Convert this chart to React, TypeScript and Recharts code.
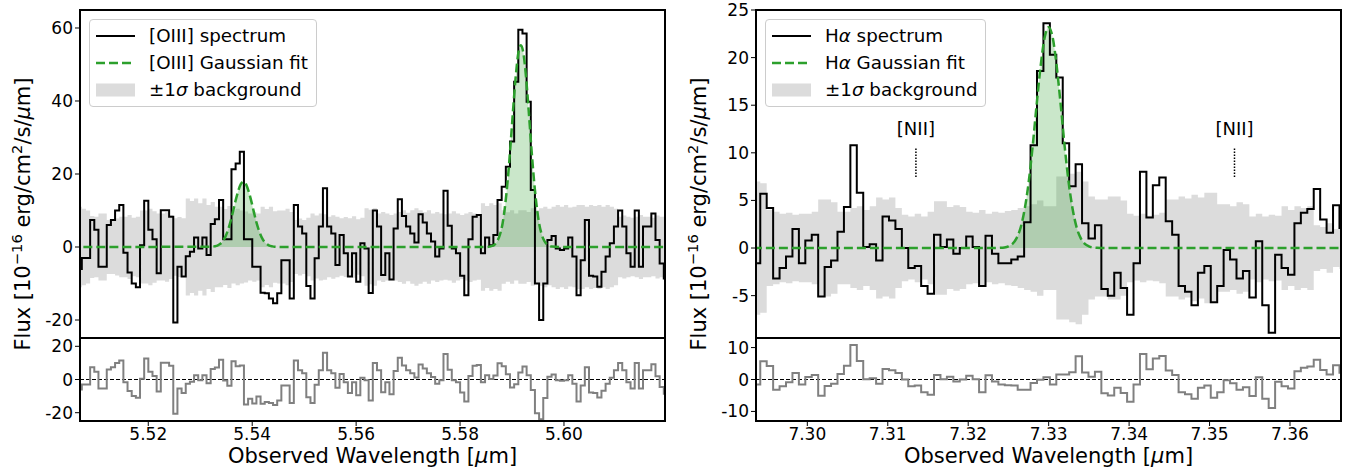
import React from 'react';
import { ComposedChart, Line, Area, XAxis, YAxis, ReferenceLine } from 'recharts';

const FONT = '"DejaVu Sans", Verdana, sans-serif';
const BAND = '#dcdcdc';
const GREEN = '#2ca02c';

// ---------------- [OIII] panel ----------------
const oiiiFirstBin = 5.50681; // centre of first (partly visible) bin
const oiiiBinWidth = 0.0008;
const oiiiFlux = [
  -6, -3, -3, 7.4, 4.7, -5.4, -5.4, 6.0, 7.4, 10.0,
  11.5, -1.6, -7.0, -10.0, -11.0, 0.5, 12.7, 4.7, 2.1, -7.2,
  10.1, 10.1, 8.3, -20.7, -5.4, -8.1, -2.5, -1.3, 2.6, -0.4,
  2.6, -2.2, 6.3, 7.6, 12.9, 2.1, 2.1, 21.3, 22.9, 26.1,
  2.1, 2.1, -5.4, -5.4, -12.5, -12.7, -14.1, -15.4, -12.7, -3.6,
  -3.6, -14.1, 11.5, 5.6, 3.7, -10.7, -14.1, -3.1, 5.6, 16.1,
  5.6, 3.7, -4.9, 3.3, -1.7, -8.1, -1.7, -9.5, 1.0, -0.4,
  -12.6, 10.0, 5.6, -7.7, -1.7, -8.9, 5.1, 13.1, 8.5, 5.6,
  3.7, 1.2, 9.0, 6.7, 3.7, 1.5, -2.6, -0.4, 15.4, 5.8,
  -0.4, -1.7, -7.9, -13.2, 2.1, 8.3, 8.8, -1.7, 2.6, 0.5,
  3.3, 12.9, 16.5, 22.0, 28.9, 45.3, 59.5, 58.5, 39.8, 15.6,
  -10.0, -20.0, -10.0, 1.9, 3.0, -0.4, -0.8, -0.4, 2.6, -2.6,
  -13.2, -3.6, 7.4, -7.9, -8.1, -10.9, -6.8, -2.6, 1.0, 5.6,
  10.0, 5.6, -1.7, -5.4, 10.0, -5.4, 5.6, 5.6, 9.2, 1.9,
  -4.5, -8.6,
];
const oiiiSigma = [
  11, 10.5, 10, 8.5, 8.3, 9.2, 9.2, 7.4, 7.4, 7.8,
  8.3, 8.3, 8.8, 8.0, 8.3, 10, 10, 10.5, 9.8, 9.2,
  9.2, 9.5, 8.8, 7.9, 8.2, 7.9, 13.3, 12.6, 13.3, 12.0,
  13.3, 11.5, 12.3, 11.0, 11.0, 10.4, 11.2, 10.0, 10.5, 10.0,
  9.7, 9.2, 9.5, 9.2, 11.0, 10.4, 11.0, 9.8, 10.0, 10.0,
  10.5, 9.6, 7.4, 7.8, 7.4, 8.0, 9.2, 8.6, 9.2, 9.0,
  8.3, 8.7, 8.3, 7.9, 8.2, 7.9, 8.4, 7.6, 8.0, 10.6,
  10.2, 10.6, 9.2, 9.6, 9.2, 8.8, 9.2, 9.6, 10.1, 9.4,
  10.1, 10.6, 10.1, 9.5, 10.1, 9.2, 9.6, 9.2, 9.0, 9.2,
  9.8, 9.2, 8.8, 9.2, 9.6, 9.2, 9.0, 12.0, 11.2, 12.0,
  11.5, 12.0, 10.1, 9.5, 10.1, 9.2, 10.1, 10.1, 9.6, 10.6,
  10.1, 10.6, 11.0, 10.5, 11.0, 11.5, 11.0, 11.5, 10.8, 11.0,
  11.5, 11.5, 11.0, 11.5, 11.2, 11.5, 11.0, 11.5, 11.0, 10.5,
  8.3, 8.6, 8.3, 8.0, 8.3, 8.8, 8.3, 8.3, 8.0, 8.6,
  8.3, 8.3,
];
const oiiiResid = [
  -6, -3, -3, 7.4, 4.7, -5.4, -5.4, 6.0, 7.4, 10.0,
  11.5, -1.6, -7.0, -10.0, -11.0, 0.5, 12.7, 4.7, 2.1, -7.2,
  10.1, 10.1, 8.3, -20.7, -5.4, -8.1, -2.5, -1.3, 2.6, -0.4,
  2.6, -2.2, 6.3, 7.3, 11.9, -0.6, -3.8, 11.0, 8.0, 8.4,
  -15.1, -11.6, -14.4, -10.2, -14.6, -13.5, -14.1, -15.4, -12.7, -3.6,
  -3.6, -14.1, 11.5, 5.6, 3.7, -10.7, -14.1, -3.1, 5.6, 16.1,
  5.6, 3.7, -4.9, 3.3, -1.7, -8.1, -1.7, -9.5, 1.0, -0.4,
  -12.6, 10.0, 5.6, -7.7, -1.7, -8.9, 5.1, 13.1, 8.5, 5.6,
  3.7, 1.2, 9.0, 6.7, 3.7, 1.5, -2.6, -0.4, 15.4, 5.8,
  -0.4, -1.7, -7.9, -13.2, 2.1, 8.3, 8.8, -1.7, 2.6, 0.3,
  2.4, 9.8, 8.0, 3.1, -4.8, -2.9, 4.2, 7.8, 2.5, -6.4,
  -20.4, -23.9, -11.2, 1.6, 3.0, -0.4, -0.8, -0.4, 2.6, -2.6,
  -13.2, -3.6, 7.4, -7.9, -8.1, -10.9, -6.8, -2.6, 1.0, 5.6,
  10.0, 5.6, -1.7, -5.4, 10.0, -5.4, 5.6, 5.6, 9.2, 1.9,
  -4.5, -8.6,
];
const oiiiFitWl = [
  5.5, 5.5323, 5.5328, 5.5333, 5.5338, 5.5343, 5.5348, 5.5353, 5.5358, 5.5363,
  5.5368, 5.5373, 5.5378, 5.5383, 5.5388, 5.5393, 5.5398, 5.5403, 5.5408, 5.5413,
  5.5418, 5.5423, 5.5428, 5.5433, 5.5438, 5.5443, 5.546, 5.585,
  5.5857, 5.5862, 5.5867, 5.5872, 5.5877, 5.5882, 5.5887, 5.5892, 5.5897, 5.5902,
  5.5907, 5.5912, 5.5917, 5.5922, 5.5927, 5.5932, 5.5937, 5.5942, 5.5947, 5.5952,
  5.5957, 5.5962, 5.5967, 5.5972, 5.5977, 5.6, 5.625,
];
const oiiiFitFlux = [
  0, 0.07, 0.2, 0.4, 0.8, 1.5, 2.7, 4.5, 6.8, 9.7,
  12.7, 15.3, 17.2, 17.9, 17.2, 15.3, 12.7, 9.7, 6.8, 4.5,
  2.7, 1.5, 0.8, 0.4, 0.2, 0.07, 0, 0,
  0.11, 0.3, 0.73, 1.7, 3.5, 6.6, 11.7, 18.8, 27.7, 37.5,
  46.5, 53.0, 55.3, 53.0, 46.5, 37.5, 27.7, 18.8, 11.7, 6.6,
  3.5, 1.7, 0.73, 0.3, 0.11, 0, 0,
];
const oiiiXDomain: [number, number] = [5.50686, 5.61944];
const oiiiXTicks = [5.52, 5.54, 5.56, 5.58, 5.6];
const oiiiYDomain: [number, number] = [-24.93, 64.93];
const oiiiYTicks = [-20, 0, 20, 40, 60];
const oiiiResDomain: [number, number] = [-25, 25];
const oiiiResTicks = [-20, 0, 20];

// ---------------- H-alpha panel ----------------
const haFirstBin = 7.29375;
const haBinWidth = 0.0008;
const haFlux = [
  -1.6, 5.7, 4.2, -3.2, -2.1, -0.9, 2.0, -1.6, 0.8, 1.4,
  -5.1, -2.0, -1.3, 1.7, 4.3, 10.8, 5.8, 0.1, 0.4, -1.3,
  3.3, 2.9, 2.0, 0.0, -2.1, -1.9, -4.0, -4.8, 1.4, 0.1,
  0.9, -0.6, 0.0, 1.2, 0.1, -4.0, 1.3, -0.6, -1.6, -1.6,
  -1.2, -0.9, 2.7, 10.8, 18.6, 23.6, 20.3, 17.9, 11.0, 6.5,
  8.8, 2.6, 1.0, 2.4, -4.3, -5.0, -2.6, -4.2, -7.0, -1.6,
  8.0, 3.2, 6.6, 7.4, 2.8, 1.4, -4.0, -4.6, -6.0, -2.6,
  -1.9, -5.7, -4.0, -0.2, -1.2, -3.2, -2.4, -5.2, 0.7, -6.0,
  -8.9, -0.7, -2.1, -2.8, 2.6, 3.7, 4.1, 6.2, 3.0, 1.6,
  4.5, 2.1,
];
const haSigma = [
  7.0, 6.8, 4.0, 3.8, 3.6, 3.7, 3.5, 3.6, 3.6, 3.8,
  5.1, 5.1, 4.8, 3.8, 3.8, 4.2, 4.4, 4.0, 4.4, 5.3,
  5.1, 5.3, 4.2, 3.5, 3.3, 3.6, 3.3, 3.8, 4.9, 4.9,
  4.3, 4.5, 4.3, 3.8, 3.7, 4.0, 3.6, 3.8, 3.7, 3.9,
  4.0, 4.2, 4.4, 4.6, 5.0, 4.4, 4.4, 7.5, 7.5, 7.8,
  8.0, 7.0, 5.4, 5.1, 5.1, 5.4, 5.4, 5.0, 3.6, 3.4,
  3.6, 3.4, 3.5, 3.7, 5.1, 5.1, 5.4, 5.2, 5.6, 5.3,
  5.8, 5.8, 4.6, 4.6, 4.4, 4.8, 4.6, 3.3, 3.6, 3.3,
  3.5, 3.4, 4.4, 4.0, 4.4, 4.2, 4.4, 2.4, 2.2, 2.6,
  2.0, 2.2,
];
const haResid = [
  -1.6, 5.7, 4.2, -3.2, -2.1, -0.9, 2.0, -1.6, 0.8, 1.4,
  -5.1, -2.0, -1.3, 1.7, 4.3, 10.8, 5.8, 0.1, 0.4, -1.3,
  3.3, 2.9, 2.0, 0.0, -2.1, -1.9, -4.0, -4.8, 1.4, 0.1,
  0.9, -0.6, 0.0, 1.2, 0.1, -4.0, 1.3, -0.6, -1.6, -1.8,
  -1.9, -3.2, -3.2, -1.1, -0.1, 0.7, -1.6, 1.6, 1.6, 2.3,
  7.3, 2.2, 0.9, 2.4, -4.3, -5.0, -2.6, -4.2, -7.0, -1.6,
  8.0, 3.2, 6.6, 7.4, 2.8, 1.4, -4.0, -4.6, -6.0, -2.6,
  -1.9, -5.7, -4.0, -0.2, -1.2, -3.2, -2.4, -5.2, 0.7, -6.0,
  -8.9, -0.7, -2.1, -2.8, 2.6, 3.7, 4.1, 6.2, 3.0, 1.6,
  4.5, 2.1,
];
const haFitWl = [
  7.29, 7.323, 7.324, 7.3245, 7.325, 7.3255, 7.326, 7.3265, 7.327, 7.3275,
  7.328, 7.3285, 7.329, 7.3295, 7.33, 7.3305, 7.331, 7.3315, 7.332, 7.3325,
  7.333, 7.3335, 7.334, 7.3345, 7.335, 7.3355, 7.336, 7.337, 7.37,
];
const haFitFlux = [
  0, 0, 0.02, 0.06, 0.18, 0.44, 1.02, 2.1, 4.0, 6.8,
  10.6, 15.0, 19.1, 22.1, 23.2, 22.1, 19.1, 15.0, 10.6, 6.8,
  4.0, 2.1, 1.02, 0.44, 0.18, 0.06, 0.02, 0, 0,
];
const haXDomain: [number, number] = [7.29362, 7.36634];
const haXTicks = [7.3, 7.31, 7.32, 7.33, 7.34, 7.35, 7.36];
const haYDomain: [number, number] = [-9.45, 25.0];
const haYTicks = [-5, 0, 5, 10, 15, 20, 25];
const haResDomain: [number, number] = [-13, 13];
const haResTicks = [-10, 0, 10];
const niiWl = [7.3135, 7.3531];
const niiMarkRange = [7.46, 10.6];

// ---------------- helpers ----------------
type Row = { wl: number; flux: number; band: [number, number]; resid: number };

function buildRows(first: number, step: number, flux: number[], sigma: number[], resid: number[]): Row[] {
  return flux.map((f, i) => ({
    wl: +(first + i * step).toFixed(6),
    flux: f,
    band: [-sigma[i], sigma[i]] as [number, number],
    resid: resid[i],
  }));
}
function buildFit(wl: number[], v: number[]) {
  return wl.map((w, i) => ({ wl: w, fit: v[i] }));
}

const tickStyle = { fill: '#000', fontSize: 17, fontFamily: FONT };
const tickLine = { stroke: '#000', strokeWidth: 1 };

function Frame({ left, top, width, height }: { left: number; top: number; width: number; height: number }) {
  return (
    <div
      style={{
        position: 'absolute', left: left - 1, top: top - 1, width: width + 2, height: height + 2,
        border: '2px solid #000', boxSizing: 'border-box', pointerEvents: 'none',
      }}
    />
  );
}

function LegendBox({ left, width, name }: { left: number; width: number; name: React.ReactNode }) {
  const rows = [
    { key: 'spec', handle: <line x1={0} y1={10} x2={39} y2={10} stroke="#000" strokeWidth={2} />, text: <>{name} spectrum</> },
    { key: 'fit', handle: <line x1={0} y1={10} x2={39} y2={10} stroke={GREEN} strokeWidth={2.5} strokeDasharray="9 4" />, text: <>{name} Gaussian fit</> },
    { key: 'bg', handle: <rect x={0} y={3.5} width={39} height={13} fill={BAND} />, text: <>±1<i>σ</i> background</> },
  ];
  return (
    <div
      style={{
        position: 'absolute', left, top: 19, width, height: 88, boxSizing: 'border-box',
        border: '1px solid #cccccc', borderRadius: 4, background: 'rgba(255,255,255,0.8)',
        fontFamily: FONT, fontSize: 18.3, color: '#000',
      }}
    >
      {rows.map((r, k) => (
        <div key={r.key} style={{ position: 'absolute', left: 0, top: 6 + k * 27, height: 20, width: '100%' }}>
          <svg width={40} height={20} style={{ position: 'absolute', left: 6, top: 0 }}>{r.handle}</svg>
          <div style={{ position: 'absolute', left: 59, top: 0, lineHeight: '20px', whiteSpace: 'nowrap' }}>{r.text}</div>
        </div>
      ))}
    </div>
  );
}

type PanelProps = {
  left: number;
  chartWidth: number;
  rightMargin: number;
  rows: Row[];
  fit: { wl: number; fit: number }[];
  xDomain: [number, number];
  xTicks: number[];
  yDomain: [number, number];
  yTicks: number[];
  rDomain: [number, number];
  rTicks: number[];
  name: React.ReactNode;
  legendWidth: number;
  nii?: number[];
};

function SpectrumPanel(p: PanelProps) {
  const plotLeft = p.left + 80;
  const plotWidth = p.chartWidth - p.rightMargin - 80;
  return (
    <>
      <div style={{ position: 'absolute', left: p.left, top: 0 }}>
        <ComposedChart width={p.chartWidth} height={340} margin={{ top: 10, right: p.rightMargin, bottom: 2, left: 0 }}>
          <XAxis type="number" dataKey="wl" domain={p.xDomain} allowDataOverflow hide />
          <YAxis
            type="number" domain={p.yDomain} ticks={p.yTicks} allowDataOverflow width={80} interval={0}
            axisLine={false} tickLine={tickLine} tickSize={5} tickMargin={2} tick={tickStyle}
          />
          <Area data={p.rows} dataKey="band" type="step" stroke="none" fill={BAND} fillOpacity={1} isAnimationActive={false} />
          <Area data={p.fit} dataKey="fit" type="monotone" stroke="none" fill={GREEN} fillOpacity={0.25} baseValue={0} isAnimationActive={false} />
          <Line data={p.rows} dataKey="flux" type="step" stroke="#000" strokeWidth={2} dot={false} activeDot={false} isAnimationActive={false} />
          <Line data={p.fit} dataKey="fit" type="monotone" stroke={GREEN} strokeWidth={2.5} strokeDasharray="9 4" dot={false} activeDot={false} isAnimationActive={false} />
          {(p.nii || []).map((w) => (
            <ReferenceLine
              key={w}
              segment={[{ x: w, y: niiMarkRange[0] }, { x: w, y: niiMarkRange[1] }]}
              stroke="#000" strokeWidth={1.5} strokeDasharray="1.5 1.5"
              label={{ value: '[NII]', position: 'top', offset: 12, fill: '#000', fontSize: 18, fontFamily: FONT }}
            />
          ))}
        </ComposedChart>
      </div>
      <div style={{ position: 'absolute', left: p.left, top: 326 }}>
        <ComposedChart width={p.chartWidth} height={142} margin={{ top: 12, right: p.rightMargin, bottom: 17, left: 0 }}>
          <XAxis
            type="number" dataKey="wl" domain={p.xDomain} ticks={p.xTicks} allowDataOverflow height={30} interval={0}
            axisLine={false} tickLine={tickLine} tickSize={5} tickMargin={2} tick={tickStyle}
            tickFormatter={(v: number) => v.toFixed(2)}
          />
          <YAxis
            type="number" domain={p.rDomain} ticks={p.rTicks} allowDataOverflow width={80} interval={0}
            axisLine={false} tickLine={tickLine} tickSize={5} tickMargin={2} tick={tickStyle}
          />
          <ReferenceLine y={0} stroke="#000" strokeWidth={1} strokeDasharray="4 2" />
          <Line data={p.rows} dataKey="resid" type="step" stroke="#808080" strokeWidth={2} dot={false} activeDot={false} isAnimationActive={false} />
        </ComposedChart>
      </div>
      <Frame left={plotLeft} top={10} width={plotWidth} height={328} />
      <Frame left={plotLeft} top={338} width={plotWidth} height={83} />
      <LegendBox left={plotLeft + 9} width={p.legendWidth} name={p.name} />
      <div
        style={{
          position: 'absolute', left: plotLeft + plotWidth / 2, top: 456, transform: 'translate(-50%, -50%)',
          fontFamily: FONT, fontSize: 21, whiteSpace: 'nowrap', lineHeight: 1, color: '#000',
        }}
      >
        Observed Wavelength [<i>μ</i>m]
      </div>
      <div
        style={{
          position: 'absolute', left: p.left + 22, top: 214, transform: 'translate(-50%, -50%) rotate(-90deg)',
          fontFamily: FONT, fontSize: 21, whiteSpace: 'nowrap', lineHeight: 1, color: '#000',
        }}
      >
        Flux [10<span style={{ fontSize: '0.7em', verticalAlign: '0.6em' }}>−16</span> erg/cm
        <span style={{ fontSize: '0.7em', verticalAlign: '0.6em' }}>2</span>/s/<i>μ</i>m]
      </div>
    </>
  );
}

export default function App() {
  const oiiiRows = buildRows(oiiiFirstBin, oiiiBinWidth, oiiiFlux, oiiiSigma, oiiiResid);
  const oiiiFit = buildFit(oiiiFitWl, oiiiFitFlux);
  const haRows = buildRows(haFirstBin, haBinWidth, haFlux, haSigma, haResid);
  const haFit = buildFit(haFitWl, haFitFlux);
  return (
    <div style={{ position: 'absolute', left: 0, top: 0, width: 1351, height: 475, background: '#fff', overflow: 'hidden' }}>
      <SpectrumPanel
        left={0} chartWidth={680} rightMargin={15}
        rows={oiiiRows} fit={oiiiFit}
        xDomain={oiiiXDomain} xTicks={oiiiXTicks}
        yDomain={oiiiYDomain} yTicks={oiiiYTicks}
        rDomain={oiiiResDomain} rTicks={oiiiResTicks}
        name="[OIII]" legendWidth={228}
      />
      <SpectrumPanel
        left={676} chartWidth={675} rightMargin={10}
        rows={haRows} fit={haFit}
        xDomain={haXDomain} xTicks={haXTicks}
        yDomain={haYDomain} yTicks={haYTicks}
        rDomain={haResDomain} rTicks={haResTicks}
        name={<>H<i>α</i></>} legendWidth={221}
        nii={niiWl}
      />
    </div>
  );
}
